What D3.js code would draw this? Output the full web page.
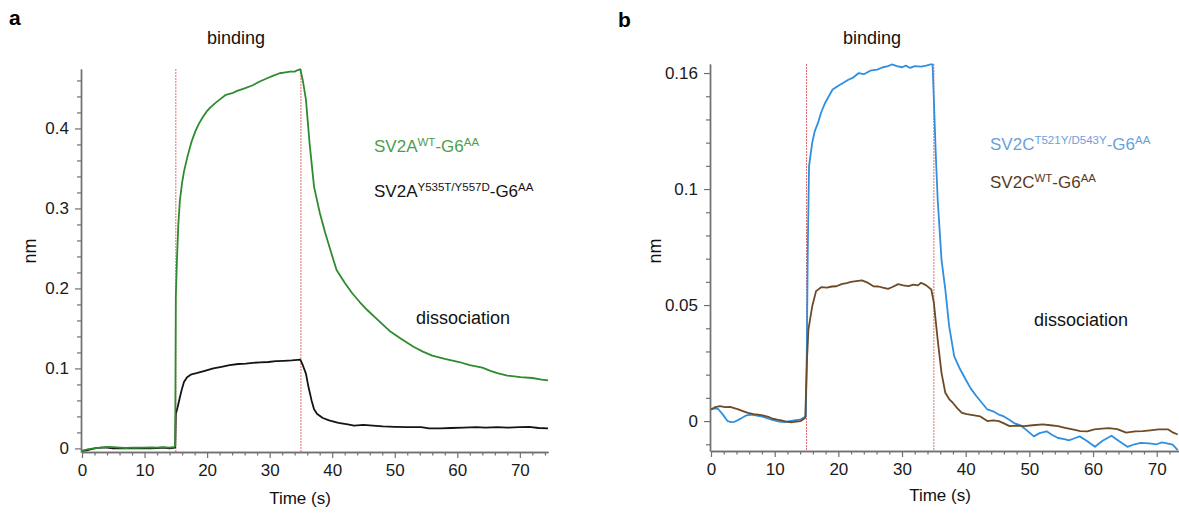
<!DOCTYPE html>
<html>
<head>
<meta charset="utf-8">
<script src="https://cdn.jsdelivr.net/npm/d3@7/dist/d3.min.js"></script>
<style>
  html, body { margin: 0; padding: 0; background: #fff; }
  svg { display: block; font-family: "Liberation Sans", Arial, sans-serif; }
</style>
</head>
<body>
<svg id="chart" width="1179" height="513"></svg>
<script>
// ---------------- DATA ----------------
// Panel a : SV2A WT (green)
const tA_wt = [0,0.5,1,2,3,4,5,6,7,8,9,10,11,12,13,14,14.8,14.9,15.0,15.2,15.4,15.65,16.0,16.3,16.9,17.5,18.1,18.7,19.3,19.9,20.5,21.2,22,23,24,24.8,26,27.3,28.5,29.7,30.6,31.6,32.5,33.3,34.0,34.5,34.9,35.3,35.8,36.4,37.1,38.0,38.9,40.1,40.7,42,43.2,44.4,45.6,47.5,49.3,51,53,54.5,56,58,60.3,62,64,65.3,66.4,68,70.1,72,73.5,74.5];
const nmA_wt = [-0.003,-0.002,-0.001,0.000,0.001,0.002,0.0015,0.001,0.0005,0.001,0.0008,0.001,0.0012,0.001,0.0015,0.001,0.002,0.003,0.19,0.24,0.28,0.31,0.332,0.346,0.366,0.383,0.396,0.406,0.414,0.421,0.426,0.431,0.436,0.442,0.444,0.447,0.450,0.454,0.459,0.463,0.466,0.469,0.470,0.471,0.471,0.473,0.474,0.46,0.436,0.38,0.327,0.295,0.269,0.238,0.223,0.207,0.194,0.183,0.173,0.159,0.146,0.137,0.127,0.121,0.116,0.112,0.108,0.104,0.101,0.097,0.094,0.091,0.089,0.088,0.086,0.085];
// Panel a : SV2A Y535T/Y557D (black)
const tA_mut = [0,1,2,3,4,5,6,7,8,9,10,11,12,13,14,14.9,15.0,15.3,15.65,16.0,16.3,16.8,17.5,18.3,19.2,19.9,21,22.3,23.6,25,26.2,27.3,28.5,29.8,31,32.3,33.5,34.9,35.3,35.8,36.2,36.7,37.1,37.6,38.5,39.5,41,42.5,43.5,45,46.5,48.1,50,52,54.2,55.5,57.3,59,61,63,64.5,66.4,68,70,71.5,73,74.5];
const nmA_mut = [-0.003,-0.002,0.000,0.001,0.001,0.000,0.0005,0.000,0.0005,0.000,0.0005,0.000,0.0005,0.001,0.000,0.001,0.043,0.052,0.064,0.075,0.083,0.089,0.0926,0.094,0.096,0.0976,0.100,0.102,0.104,0.1055,0.106,0.107,0.1075,0.108,0.109,0.1095,0.110,0.111,0.104,0.0935,0.077,0.060,0.049,0.043,0.038,0.035,0.032,0.030,0.0285,0.0295,0.0285,0.0275,0.027,0.0265,0.0267,0.025,0.025,0.0255,0.026,0.0265,0.026,0.0267,0.026,0.0265,0.027,0.0255,0.025];
// Panel b : SV2C T521Y/D543Y (blue)
const tB_mut = [0,0.5,1.1,1.8,2.6,3.2,3.7,4.3,4.9,5.6,6.3,7.2,8.1,9,9.8,10.7,11.6,12.4,13.3,14,14.5,14.9,15.05,15.2,15.4,15.9,16.3,16.8,17.3,17.9,18.5,19.1,20,20.8,21.5,22.3,23.2,24,25,26.1,27,27.8,28.4,29.2,30,30.6,31.3,32,33,33.8,34.5,34.8,35.0,35.3,35.6,36.2,36.8,37.4,38.2,39,40.0,40.8,41.7,42.5,43.4,44.3,45.2,46,46.9,47.7,48.6,49.6,50.7,51.6,52.7,53.6,54.5,55.5,56.2,57,57.9,59,60.3,61.5,62.9,64,65.4,66.5,67.5,68.8,70,70.8,71.6,72.5,73.3];
const nmB_mut = [0.005,0.0055,0.0053,0.003,0.000,-0.0005,-0.0003,0.0005,0.0014,0.0025,0.0028,0.0024,0.0019,0.001,0.0004,-0.0002,-0.0005,0.000,0.0004,0.0006,0.0014,0.002,0.031,0.074,0.11,0.12,0.125,0.1285,0.133,0.137,0.140,0.1429,0.1445,0.1458,0.147,0.148,0.150,0.1495,0.151,0.1515,0.1525,0.153,0.1537,0.153,0.1525,0.1532,0.1522,0.153,0.1528,0.1532,0.1537,0.1537,0.1386,0.115,0.0955,0.0696,0.0567,0.0409,0.0279,0.023,0.0179,0.014,0.0107,0.008,0.005,0.0042,0.0028,0.002,0.0005,-0.001,-0.0018,-0.004,-0.0066,-0.0052,-0.0044,-0.006,-0.0073,-0.0078,-0.0083,-0.0075,-0.0066,-0.0085,-0.0111,-0.0085,-0.0063,-0.0085,-0.0111,-0.010,-0.0094,-0.0096,-0.010,-0.0092,-0.0096,-0.0102,-0.0125];
// Panel b : SV2C WT (brown)
const tB_wt = [0,0.7,1.4,2.2,3.0,3.5,4.3,5.0,5.8,6.7,7.4,8.1,9.0,9.7,10.4,11.2,12,12.7,13.4,14.1,14.8,15.1,15.3,15.9,16.5,17.3,18.2,19,19.7,20.5,21.3,22,22.8,23.7,24.5,25.5,26.3,27,27.8,28.5,29.4,30.2,31,31.8,32.5,33.0,33.8,34.6,35.0,35.3,35.6,36.2,36.8,37.4,38.0,38.7,39.4,40.2,41.1,42.3,43.4,44.3,45.2,46,46.9,48,49.2,50.5,52.1,53.3,54.5,55.6,56.8,58,59.1,60.2,61.4,62.5,63.8,65.2,66.6,67.8,69,70.3,71.8,72.6,73.3];
const nmB_wt = [0.005,0.006,0.0064,0.006,0.0061,0.0057,0.005,0.0043,0.0035,0.003,0.0028,0.0025,0.0018,0.001,0.0006,0.0002,-0.0003,-0.0005,-0.0002,0.000,0.0014,0.028,0.0394,0.0495,0.056,0.0577,0.0575,0.058,0.0581,0.059,0.0595,0.060,0.0603,0.0606,0.0598,0.0581,0.058,0.0575,0.057,0.0578,0.059,0.0585,0.0582,0.0588,0.0585,0.0596,0.0585,0.0567,0.051,0.043,0.0351,0.0208,0.0122,0.0095,0.0078,0.0055,0.0035,0.003,0.0026,0.002,0.000,0.0003,0.000,-0.001,-0.0022,-0.002,-0.0022,-0.0018,-0.0014,-0.0018,-0.0022,-0.0029,-0.0036,-0.0043,-0.0044,-0.0036,-0.0033,-0.003,-0.0035,-0.005,-0.0044,-0.0043,-0.004,-0.0036,-0.0036,-0.005,-0.0058];

// phase boundaries (s)
const phaseTimes = [15, 35];
// tick values / labels
const xMajorTicks = [0,10,20,30,40,50,60,70];
const yMajorTicksA = [0,0.1,0.2,0.3,0.4];
const yTickLabelsA = ["0","0.1","0.2","0.3","0.4"];
const yMajorTicksB = [0,0.05,0.1,0.15];
const yTickLabelsB = ["0","0.05","0.1","0.16"];
// legend texts [main, sup, main, sup]
const legendA = [["SV2A","WT","-G6","AA"],["SV2A","Y535T/Y557D","-G6","AA"]];
const legendB = [["SV2C","T521Y/D543Y","-G6","AA"],["SV2C","WT","-G6","AA"]];

// ---------------- DRAW ----------------
const svg = d3.select("#chart");
svg.append("rect").attr("width",1179).attr("height",513).attr("fill","#fff");

function zip(t, v){ return t.map((d,i)=>[d, v[i]]); }

function panel(cfg){
  const g = svg.append("g");
  const x = cfg.x, y = cfg.y;
  const [x0, x1] = x.range();
  const [yb, yt] = y.range();
  const axisColor = "#707070";

  // minor ticks
  const xMinor = d3.range(0, x.domain()[1] + 0.001, 2).filter(v => !xMajorTicks.includes(v));
  const yMinor = d3.range(cfg.yMinorStart, y.domain()[1] + 1e-9, cfg.yMinorStep)
                   .map(v => +v.toFixed(4)).filter(v => !cfg.yMajor.some(m => Math.abs(m - v) < 1e-6));

  // red phase lines
  g.selectAll("line.phase").data(phaseTimes).join("line")
    .attr("x1", d => x(d)).attr("x2", d => x(d))
    .attr("y1", yt).attr("y2", yb)
    .attr("stroke", "#e26d6d").attr("stroke-width", 1).attr("stroke-dasharray", "2,1");

  // x axis
  const gx = g.append("g").attr("transform", `translate(0,${yb})`);
  gx.append("g").call(d3.axisBottom(x).tickValues(xMinor).tickSize(3.5).tickSizeOuter(0).tickFormat(""));
  gx.append("g").call(d3.axisBottom(x).tickValues(xMajorTicks).tickSize(6).tickSizeOuter(0).tickPadding(6).tickFormat(d3.format("d")));
  // y axis
  const gy = g.append("g").attr("transform", `translate(${x0 - 1},0)`);
  gy.append("g").call(d3.axisLeft(y).tickValues(yMinor).tickSize(4).tickSizeOuter(0).tickFormat(""));
  gy.append("g").call(d3.axisLeft(y).tickValues(cfg.yMajor).tickSize(6).tickSizeOuter(0).tickPadding(6)
      .tickFormat((d,i) => cfg.yLabels[i]));

  g.selectAll(".domain").attr("stroke", axisColor).attr("stroke-width", 1.4);
  g.selectAll(".tick line").attr("stroke", axisColor).attr("stroke-width", 1.2);
  g.selectAll(".tick text").attr("font-size", 17).attr("fill", "#1a1a1a")
    .attr("font-family", "Liberation Sans, Arial, sans-serif");

  // series
  const line = d3.line().x(d => x(d[0])).y(d => y(d[1]));
  cfg.series.forEach(s => {
    g.append("path").datum(s.data).attr("d", line)
      .attr("fill", "none").attr("stroke", s.color).attr("stroke-width", 1.8)
      .attr("stroke-linejoin", "round");
  });

  // legend
  cfg.legend.forEach((parts, i) => {
    const t = g.append("text").attr("x", cfg.legX).attr("y", cfg.legY[i])
      .attr("fill", cfg.legColors[i]).attr("font-size", 17);
    t.append("tspan").text(parts[0]);
    t.append("tspan").attr("font-size", 11.5).attr("dy", -6).text(parts[1]);
    t.append("tspan").attr("dy", 6).text(parts[2]);
    t.append("tspan").attr("font-size", 11.5).attr("dy", -6).text(parts[3]);
  });

  // annotations
  g.append("text").attr("x", cfg.bindX).attr("y", 44).attr("text-anchor", "middle")
    .attr("font-size", 18).attr("fill", "#111").text("binding");
  g.append("text").attr("x", cfg.dissX).attr("y", cfg.dissY).attr("text-anchor", "middle")
    .attr("font-size", 18).attr("fill", "#111").text("dissociation");
  g.append("text").attr("x", cfg.timeX).attr("y", cfg.timeY).attr("text-anchor", "middle")
    .attr("font-size", 17).attr("fill", "#111").text("Time (s)");
  g.append("text").attr("transform", `translate(${cfg.nmX},251) rotate(-90)`).attr("text-anchor", "middle")
    .attr("font-size", 18).attr("fill", "#111").text("nm");
  g.append("text").attr("x", cfg.labX).attr("y", cfg.labY).attr("font-size", 21)
    .attr("font-weight", "bold").attr("fill", "#000").text(cfg.label);
}

const xA = d3.scaleLinear().domain([0, 74.5]).range([82, 548]);
const yA = d3.scaleLinear().domain([-0.0045, 0.4743]).range([452, 69]);
const xB = d3.scaleLinear().domain([0, 73.5]).range([711, 1179]);
const yB = d3.scaleLinear().domain([-0.0129, 0.1539]).range([451, 64]);

panel({
  x: xA, y: yA, yMajor: yMajorTicksA, yLabels: yTickLabelsA, yMinorStart: 0, yMinorStep: 0.02,
  series: [
    {data: zip(tA_mut, nmA_mut), color: "#141414"},
    {data: zip(tA_wt, nmA_wt), color: "#2e8b2e"}
  ],
  legend: legendA, legX: 374, legY: [151.5, 197], legColors: ["#4c9e4c", "#141414"],
  bindX: 236, dissX: 463, dissY: 324, timeX: 300, timeY: 504, nmX: 36, labX: 9, labY: 25, label: "a"
});

panel({
  x: xB, y: yB, yMajor: yMajorTicksB, yLabels: yTickLabelsB, yMinorStart: -0.01, yMinorStep: 0.01,
  series: [
    {data: zip(tB_mut, nmB_mut), color: "#2f8fe0"},
    {data: zip(tB_wt, nmB_wt), color: "#6e4a26"}
  ],
  legend: legendB, legX: 990, legY: [149.5, 188], legColors: ["#6b9fdc", "#5a3a1c"],
  bindX: 872, dissX: 1081, dissY: 326, timeX: 940, timeY: 501, nmX: 661, labX: 618, labY: 27, label: "b"
});
</script>
</body>
</html>
